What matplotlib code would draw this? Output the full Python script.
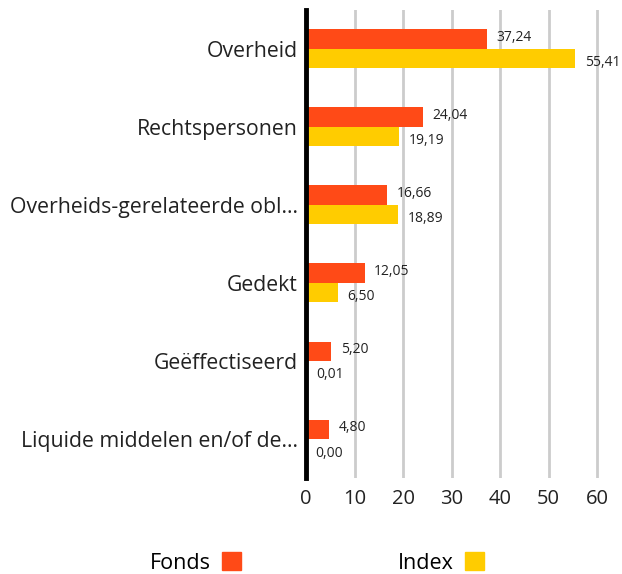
import matplotlib.pyplot as plt
import numpy as np
from matplotlib.patches import Patch

plt.rcParams["font.family"] = ["Open Sans", "DejaVu Sans"]

categories = [
    "Overheid",
    "Rechtspersonen",
    "Overheids-gerelateerde obl...",
    "Gedekt",
    "Geëffectiseerd",
    "Liquide middelen en/of de...",
]
fonds = [37.24, 24.04, 16.66, 12.05, 5.20, 4.80]
index = [55.41, 19.19, 18.89, 6.50, 0.01, 0.00]
series_names = ["Fonds", "Index"]
colors = ["#FF4A17", "#FFCC00"]


def fmt(v):
    return f"{v:.2f}".replace(".", ",")


fig = plt.figure(figsize=(6.22, 5.74), dpi=100)
ax = fig.add_axes([0.492, 0.167, 0.476, 0.816])

y = np.arange(len(categories))
h = 0.25
ax.barh(y - h / 2, fonds, height=h, color=colors[0], zorder=3)
ax.barh(y + h / 2, index, height=h, color=colors[1], zorder=3)

for yi, v in zip(y, fonds):
    ax.annotate(fmt(v), (v, yi - h / 2), xytext=(7, 1), textcoords="offset points",
                va="center", ha="left", fontsize=10, color="#222222")
for yi, v in zip(y, index):
    ax.annotate(fmt(v), (v, yi + h / 2), xytext=(7, -3), textcoords="offset points",
                va="center", ha="left", fontsize=10, color="#222222")

ax.set_xlim(0, 61)
ax.set_ylim(5.5, -0.5)
ax.set_xticks([0, 10, 20, 30, 40, 50, 60])
ax.set_yticks(y)
ax.set_yticklabels(categories)
ax.tick_params(axis="both", length=0, colors="#222222")
ax.tick_params(axis="x", pad=8, labelsize=14.5)
ax.tick_params(axis="y", pad=6, labelsize=15.3)
ax.xaxis.grid(True, color="#cccccc", linewidth=2, zorder=0)
ax.set_axisbelow(True)
for s in ["top", "right", "bottom"]:
    ax.spines[s].set_visible(False)
ax.spines["left"].set_color("black")
ax.spines["left"].set_linewidth(3.5)
ax.spines["left"].set_zorder(5)

handles = [Patch(color=c) for c in colors]
fig.legend(handles, series_names, loc="lower center", bbox_to_anchor=(0.51, -0.033),
           ncol=2, markerfirst=False, frameon=False, fontsize=15.5,
           handlelength=0.9, handleheight=0.9, handletextpad=0.5, columnspacing=7.3)

fig.savefig("out.png", dpi=100)
